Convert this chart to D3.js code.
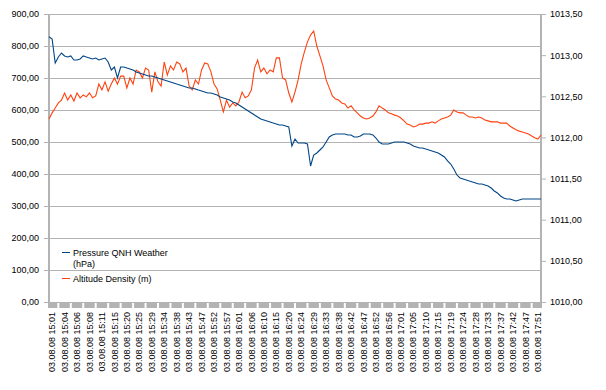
<!DOCTYPE html>
<html>
<head>
<meta charset="utf-8">
<script src="https://cdn.jsdelivr.net/npm/d3@7"></script>
<style>
  body { margin: 0; background: #fff; }
  svg { display: block; font-family: "Liberation Sans", Arial, sans-serif; }
</style>
</head>
<body>
<svg id="chart" width="606" height="390"></svg>
<script>
// etiquetas del eje x (una cada 4 mediciones)
const timeLabels = [
  '15:01','15:04','15:06','15:08','15:11','15:15','15:20','15:25','15:29','15:34',
  '15:38','15:43','15:47','15:52','15:57','16:01','16:06','16:10','16:15','16:20',
  '16:24','16:29','16:33','16:38','16:42','16:47','16:52','16:56','17:01','17:05',
  '17:10','17:15','17:19','17:24','17:28','17:33','17:37','17:42','17:47','17:51'
];
const datePrefix = '03.08.08';
const labelEvery = 4;
const labelOffset = 1;

// Altitude Density (m) -> eje izquierdo
const altitudeDensity = [
  572,591,606,622,631,653,631,647,628,653, 638,647,641,653,638,644,681,663,688,659,
  681,700,681,706,706,669,700,681,725,719, 700,731,725,656,719,688,675,750,709,738,
  725,750,744,719,731,675,663,694,681,725, 747,744,719,681,666,631,594,631,609,622,
  613,625,656,638,644,663,731,756,719,731, 713,725,719,763,763,700,694,653,625,656,
  694,744,781,813,834,847,800,769,738,694, 669,644,634,631,622,619,606,613,600,591,
  581,575,572,575,581,594,613,606,600,591, 588,584,581,575,566,556,553,547,550,556,
  556,559,559,563,559,566,572,575,578,584, 600,594,591,591,584,578,578,575,578,575,
  569,566,563,563,563,559,559,559,550,544, 538,534,531,528,525,519,513,509,522
];

// Pressure QNH Weather (hPa) -> eje derecho
const pressureQNH = [
  1013.224,1013.196,1012.905,1012.977,1013.026,1012.990,1012.977,1012.990,1012.941,1012.941,
  1012.953,1012.990,1012.977,1012.965,1012.953,1012.965,1012.941,1012.953,1012.965,1012.917,
  1012.820,1012.856,1012.722,1012.856,1012.856,1012.844,1012.832,1012.820,1012.795,1012.783,
  1012.771,1012.759,1012.747,1012.747,1012.734,1012.722,1012.710,1012.698,1012.686,1012.674,
  1012.662,1012.649,1012.637,1012.625,1012.613,1012.601,1012.601,1012.589,1012.576,1012.564,
  1012.552,1012.540,1012.540,1012.528,1012.516,1012.491,1012.479,1012.467,1012.455,1012.431,
  1012.418,1012.394,1012.370,1012.346,1012.321,1012.297,1012.273,1012.248,1012.224,1012.212,
  1012.200,1012.188,1012.175,1012.163,1012.151,1012.151,1012.139,1012.127,1011.896,1011.981,
  1011.932,1011.932,1011.932,1011.920,1011.653,1011.786,1011.811,1011.847,1011.884,1011.944,
  1012.005,1012.030,1012.042,1012.042,1012.042,1012.042,1012.030,1012.030,1012.005,1012.005,
  1012.017,1012.042,1012.042,1012.042,1012.030,1011.993,1011.944,1011.920,1011.920,1011.920,
  1011.932,1011.944,1011.944,1011.944,1011.944,1011.932,1011.920,1011.896,1011.884,1011.872,
  1011.872,1011.859,1011.847,1011.835,1011.823,1011.811,1011.786,1011.762,1011.714,1011.677,
  1011.616,1011.543,1011.507,1011.495,1011.483,1011.470,1011.458,1011.446,1011.434,1011.434,
  1011.422,1011.410,1011.385,1011.349,1011.325,1011.288,1011.264,1011.252,1011.252,1011.240,
  1011.227,1011.240,1011.252,1011.252,1011.252,1011.252,1011.252,1011.252,1011.252
];

const leftTicks = [0,100,200,300,400,500,600,700,800,900];
const rightTicks = [1010,1010.5,1011,1011.5,1012,1012.5,1013,1013.5];

const seriesNames = ['Pressure QNH Weather', 'Altitude Density (m)'];
const colors = { pressure: '#004586', altitude: '#ff420e', grid: '#b3b3b3' };

const svg = d3.select('#chart');
const margin = { left: 49, right: 65, top: 14, bottom: 88 };
const W = 606, H = 390;
const x0 = margin.left, x1 = W - margin.right;
const y0 = H - margin.bottom, y1 = margin.top;

const n = altitudeDensity.length;
const x = d3.scaleLinear().domain([0, n - 1]).range([x0, x1]);
const yLeft = d3.scaleLinear().domain([0, 900]).range([y0, y1]);
const yRight = d3.scaleLinear().domain([1010, 1013.5]).range([y0, y1]);

const comma2 = d => d3.format('.2f')(d).replace('.', ',');

// rejilla horizontal
svg.append('g')
  .selectAll('line')
  .data(leftTicks)
  .join('line')
  .attr('x1', x0).attr('x2', x1)
  .attr('y1', d => Math.round(yLeft(d)) + 0.5)
  .attr('y2', d => Math.round(yLeft(d)) + 0.5)
  .attr('stroke', colors.grid);

// banda de marcas del eje x
const bounds = d3.range(timeLabels.length - 1).map(j => x(j * labelEvery + labelOffset + 2));
const blocks = [x0].concat(bounds).map((b, i, arr) => [b, i + 1 < arr.length ? arr[i + 1] : x1]);
svg.append('g')
  .selectAll('rect')
  .data(blocks)
  .join('rect')
  .attr('x', d => d[0] + 1)
  .attr('width', d => Math.max(0, d[1] - d[0] - 2))
  .attr('y', y0 + 1)
  .attr('height', 5)
  .attr('fill', colors.grid);

// ejes
const leftAxis = svg.append('g')
  .attr('transform', `translate(${x0},0)`)
  .call(d3.axisLeft(yLeft).tickValues(leftTicks).tickFormat(comma2).tickSize(5).tickSizeOuter(0));
const rightAxis = svg.append('g')
  .attr('transform', `translate(${x1},0)`)
  .call(d3.axisRight(yRight).tickValues(rightTicks).tickFormat(comma2).tickSize(5).tickSizeOuter(0));

[leftAxis, rightAxis].forEach(a => {
  a.select('.domain').attr('stroke', colors.grid).attr('stroke-width', 2);
  a.selectAll('.tick line').attr('stroke', colors.grid);
  a.selectAll('.tick text').attr('fill', '#000').attr('font-size', 9)
    .attr('font-family', '"Liberation Sans", Arial, sans-serif');
});
leftAxis.select('.domain').attr('d', `M0,${y1}V${y0 + 6}`);
rightAxis.select('.domain').attr('d', `M0,${y1}V${y0 + 6}`);
leftAxis.selectAll('.tick text').attr('x', -10);
rightAxis.selectAll('.tick text').attr('x', 9);

// linea base
svg.append('line')
  .attr('x1', x0).attr('x2', x1)
  .attr('y1', y0 + 0.5).attr('y2', y0 + 0.5)
  .attr('stroke', colors.grid);

// etiquetas x rotadas
svg.append('g')
  .selectAll('text')
  .data(timeLabels)
  .join('text')
  .attr('transform', (d, j) => `translate(${x(j * labelEvery + labelOffset)},${y0 + 10}) rotate(-90)`)
  .attr('text-anchor', 'end')
  .attr('dy', '0.35em')
  .attr('font-size', 9)
  .text(d => `${datePrefix} ${d}`);

// series
const lineLeft = d3.line().x((d, i) => x(i)).y(d => yLeft(d));
const lineRight = d3.line().x((d, i) => x(i)).y(d => yRight(d));

svg.append('path')
  .datum(altitudeDensity)
  .attr('d', lineLeft)
  .attr('fill', 'none')
  .attr('stroke', colors.altitude)
  .attr('stroke-width', 1.1);

svg.append('path')
  .datum(pressureQNH)
  .attr('d', lineRight)
  .attr('fill', 'none')
  .attr('stroke', colors.pressure)
  .attr('stroke-width', 1.1);

// leyenda
const legend = svg.append('g').attr('transform', 'translate(62,252)');
legend.append('line').attr('x1', 0).attr('x2', 8).attr('y1', 0.5).attr('y2', 0.5)
  .attr('stroke', colors.pressure);
legend.append('text').attr('x', 11).attr('y', 3.5).attr('font-size', 9).text(seriesNames[0]);
legend.append('text').attr('x', 11).attr('y', 15).attr('font-size', 9).text('(hPa)');
legend.append('line').attr('x1', 0).attr('x2', 8).attr('y1', 26.5).attr('y2', 26.5)
  .attr('stroke', colors.altitude);
legend.append('text').attr('x', 11).attr('y', 29.5).attr('font-size', 9).text(seriesNames[1]);
</script>
</body>
</html>
